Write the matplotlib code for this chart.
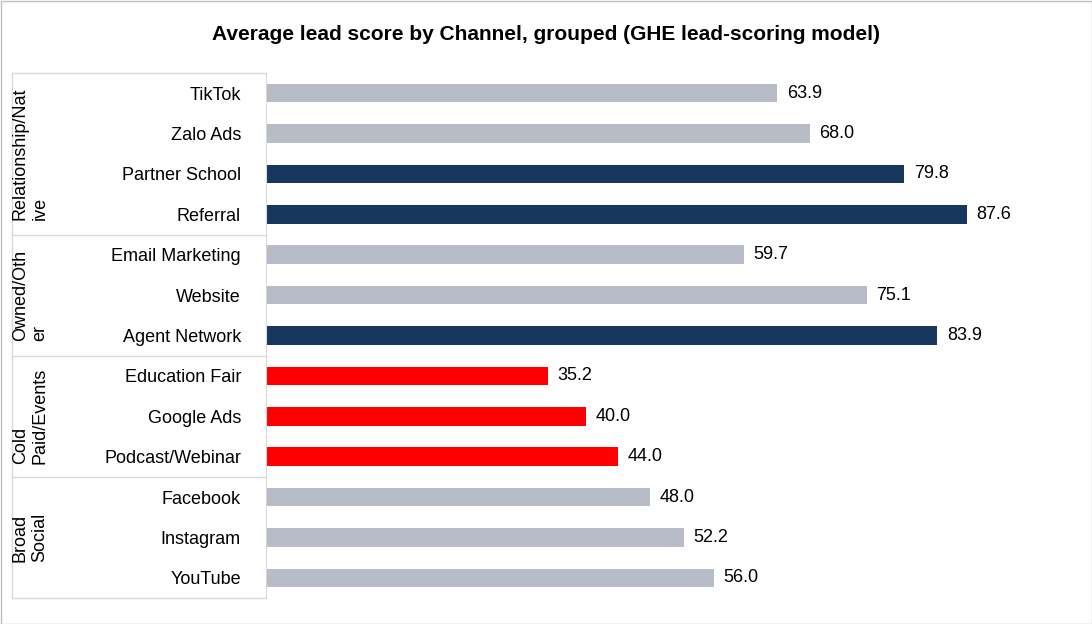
import matplotlib
matplotlib.use("Agg")
import matplotlib.pyplot as plt
from matplotlib.patches import Rectangle

plt.rcParams['font.family'] = ['Liberation Sans', 'DejaVu Sans']

channels = ["TikTok", "Zalo Ads", "Partner School", "Referral", "Email Marketing", "Website",
            "Agent Network", "Education Fair", "Google Ads", "Podcast/Webinar", "Facebook",
            "Instagram", "YouTube"]
scores = [63.9, 68.0, 79.8, 87.6, 59.7, 75.1, 83.9, 35.2, 40.0, 44.0, 48.0, 52.2, 56.0]
tiers = ["other", "other", "top", "top", "other", "other", "top", "low", "low", "low",
         "other", "other", "other"]
groups = ["Relationship/Nat\nive", "Owned/Oth\ner", "Cold\nPaid/Events", "Broad\nSocial"]
group_sizes = [4, 3, 3, 3]
colors = {"top": "#17375E", "low": "#FF0000", "other": "#B7BCC7"}

W, H = 1092, 624
fig = plt.figure(figsize=(W/100, H/100), dpi=100)
fig.patches.append(Rectangle((0.5/W, 0.5/H), 1-1/W, 1-1/H, transform=fig.transFigure,
                             fill=False, ec="#BFBFBF", lw=1))

x0, x1, ytop, ybot = 266, 1066, 73, 598
ax = fig.add_axes([x0/W, 1-ybot/H, (x1-x0)/W, (ybot-ytop)/H])
n = len(channels)
ys = list(range(n))
ax.barh(ys, scores, height=0.46, color=[colors[t] for t in tiers])
for y, v in zip(ys, scores):
    ax.text(v + 1.2, y, f"{v:.1f}", va="center", ha="left", fontsize=13)
ax.set_xlim(0, 100)
ax.set_ylim(n - 0.5, -0.5)
ax.set_xticks([])
ax.set_yticks(ys)
ax.set_yticklabels(channels, fontsize=13)
ax.tick_params(axis="y", length=0, pad=18)
for s in ["top", "right", "bottom"]:
    ax.spines[s].set_visible(False)
ax.spines["left"].set_color("#D9D9D9")

# group labels
row_h = (ybot - ytop) / n
gx0 = 12
start = 0
boundaries = [0]
for g, sz in zip(groups, group_sizes):
    mid = ytop + (start + sz/2) * row_h
    fig.text(30/W, 1 - mid/H, g, rotation=90, ha="center", va="center", fontsize=13,
             multialignment="left")
    start += sz
    boundaries.append(start)
for b in boundaries:
    yy = 1 - (ytop + b*row_h)/H
    fig.add_artist(plt.Line2D([gx0/W, x0/W], [yy, yy], color="#D9D9D9", lw=1))
fig.add_artist(plt.Line2D([gx0/W, gx0/W], [1-ytop/H, 1-ybot/H], color="#D9D9D9", lw=1))

fig.text(0.5, 1 - 35/H, "Average lead score by Channel, grouped (GHE lead-scoring model)",
         ha="center", va="center", fontsize=15, fontweight="bold")
fig.savefig("out.png", dpi=100)
